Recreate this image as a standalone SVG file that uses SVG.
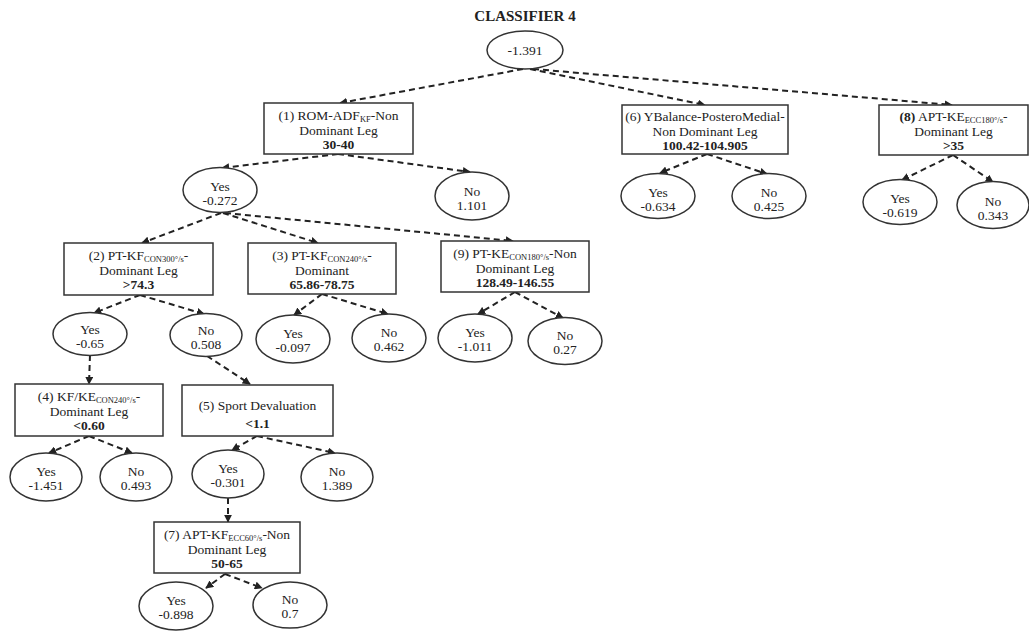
<svg xmlns="http://www.w3.org/2000/svg" width="1029" height="631" viewBox="0 0 1029 631">
  <style>
    text { font-family: "Liberation Serif", "Times New Roman", serif; font-size: 13.5px; fill: #222; text-anchor: middle; }
    .title { font-size: 15px; font-weight: bold; }
    .b { font-weight: bold; }
    .sub { font-size: 8.5px; }
    rect { fill: #fff; stroke: #333; stroke-width: 1.5; }
    ellipse { fill: #fff; stroke: #333; stroke-width: 1.5; }
    .edge { fill: none; stroke: #222; stroke-width: 2; stroke-dasharray: 6 4; marker-end: url(#ah); }
  </style>
  <defs>
    <marker id="ah" viewBox="0 0 10 10" refX="9" refY="5" markerWidth="4" markerHeight="4" orient="auto" markerUnits="strokeWidth">
      <path d="M0,0 L10,5 L0,10 z" fill="#222"/>
    </marker>
  </defs>
  <rect x="0" y="0" width="1029" height="631" style="fill:#fff;stroke:none"/>

  <text class="title" x="525" y="21">CLASSIFIER 4</text>

  <g id="connectors">
    <path class="edge" d="M523,69 L340,103"/>
    <path class="edge" d="M530,69 L705,105"/>
    <path class="edge" d="M533,69 L952,105"/>
    <path class="edge" d="M338,154 L222,168"/>
    <path class="edge" d="M338,154 L470,172"/>
    <path class="edge" d="M221,213 L142,243"/>
    <path class="edge" d="M223,213 L318,243"/>
    <path class="edge" d="M225,213 L513,241"/>
    <path class="edge" d="M140,295 L94,313"/>
    <path class="edge" d="M140,295 L204,314"/>
    <path class="edge" d="M322,294 L294,315"/>
    <path class="edge" d="M322,294 L388,314"/>
    <path class="edge" d="M515,292 L478,314"/>
    <path class="edge" d="M515,292 L563,318"/>
    <path class="edge" d="M707,154 L660,173"/>
    <path class="edge" d="M707,154 L767,174"/>
    <path class="edge" d="M953,155 L902,180"/>
    <path class="edge" d="M953,155 L993,182"/>
    <path class="edge" d="M90,355 L89,384"/>
    <path class="edge" d="M207,356 L250,384"/>
    <path class="edge" d="M89,436 L49,453"/>
    <path class="edge" d="M89,436 L132,453"/>
    <path class="edge" d="M257,436 L232,450"/>
    <path class="edge" d="M257,436 L335,453"/>
    <path class="edge" d="M228,498 L228,522"/>
    <path class="edge" d="M225,574 L206,588"/>
    <path class="edge" d="M225,574 L262,588"/>
  </g>

  <g id="root">
    <ellipse cx="525" cy="50" rx="38" ry="19"/>
    <text x="525" y="55">-1.391</text>
  </g>

  <g id="n1">
    <rect x="264" y="103" width="149" height="51"/>
    <text x="338.5" y="120">(1) ROM-ADF<tspan class="sub" dy="2">KF</tspan><tspan dy="-2">-Non</tspan></text>
    <text x="338.5" y="135">Dominant Leg</text>
    <text class="b" x="338.5" y="149">30-40</text>
  </g>

  <g id="n6">
    <rect x="622" y="105" width="166" height="49"/>
    <text x="705" y="121">(6) YBalance-PosteroMedial-</text>
    <text x="705" y="136">Non Dominant Leg</text>
    <text class="b" x="705" y="150">100.42-104.905</text>
  </g>

  <g id="n8">
    <rect x="879" y="105" width="149" height="50"/>
    <text x="953.5" y="121"><tspan class="b">(8)</tspan> APT-KE<tspan class="sub" dy="2">ECC180°/s</tspan><tspan dy="-2">-</tspan></text>
    <text x="953.5" y="136">Dominant Leg</text>
    <text class="b" x="953.5" y="150">&gt;35</text>
  </g>

  <g id="n1-yes">
    <ellipse cx="220" cy="190" rx="37" ry="22.5"/>
    <text x="220" y="191">Yes</text>
    <text x="220" y="205">-0.272</text>
  </g>
  <g id="n1-no">
    <ellipse cx="472" cy="196" rx="37" ry="24"/>
    <text x="472" y="196">No</text>
    <text x="472" y="210">1.101</text>
  </g>

  <g id="n6-yes">
    <ellipse cx="658" cy="196" rx="37" ry="22.5"/>
    <text x="658" y="197">Yes</text>
    <text x="658" y="211">-0.634</text>
  </g>
  <g id="n6-no">
    <ellipse cx="769" cy="196" rx="37" ry="22.5"/>
    <text x="769" y="197">No</text>
    <text x="769" y="211">0.425</text>
  </g>

  <g id="n8-yes">
    <ellipse cx="900" cy="202" rx="37" ry="22.5"/>
    <text x="900" y="203">Yes</text>
    <text x="900" y="217">-0.619</text>
  </g>
  <g id="n8-no">
    <ellipse cx="993" cy="205" rx="36" ry="23.5"/>
    <text x="993" y="206">No</text>
    <text x="993" y="220">0.343</text>
  </g>

  <g id="n2">
    <rect x="64" y="243" width="149" height="52"/>
    <text x="138.5" y="260">(2) PT-KF<tspan class="sub" dy="2">CON300°/s</tspan><tspan dy="-2">-</tspan></text>
    <text x="138.5" y="275">Dominant Leg</text>
    <text class="b" x="138.5" y="289">&gt;74.3</text>
  </g>

  <g id="n3">
    <rect x="248" y="243" width="148" height="51"/>
    <text x="322" y="260">(3) PT-KF<tspan class="sub" dy="2">CON240°/s</tspan><tspan dy="-2">-</tspan></text>
    <text x="322" y="275">Dominant</text>
    <text class="b" x="322" y="289">65.86-78.75</text>
  </g>

  <g id="n9">
    <rect x="441" y="241" width="148" height="51"/>
    <text x="515" y="258">(9) PT-KE<tspan class="sub" dy="2">CON180°/s</tspan><tspan dy="-2">-Non</tspan></text>
    <text x="515" y="273">Dominant Leg</text>
    <text class="b" x="515" y="287">128.49-146.55</text>
  </g>

  <g id="n2-yes">
    <ellipse cx="90" cy="334" rx="37" ry="21.5"/>
    <text x="90" y="334">Yes</text>
    <text x="90" y="348">-0.65</text>
  </g>
  <g id="n2-no">
    <ellipse cx="206" cy="335" rx="36" ry="21.5"/>
    <text x="206" y="335">No</text>
    <text x="206" y="349">0.508</text>
  </g>

  <g id="n3-yes">
    <ellipse cx="293" cy="339" rx="37" ry="24"/>
    <text x="293" y="338">Yes</text>
    <text x="293" y="352">-0.097</text>
  </g>
  <g id="n3-no">
    <ellipse cx="389" cy="338" rx="37" ry="24"/>
    <text x="389" y="337">No</text>
    <text x="389" y="351">0.462</text>
  </g>

  <g id="n9-yes">
    <ellipse cx="475" cy="338" rx="37" ry="24"/>
    <text x="475" y="337">Yes</text>
    <text x="475" y="351">-1.011</text>
  </g>
  <g id="n9-no">
    <ellipse cx="565" cy="341" rx="37" ry="23.5"/>
    <text x="565" y="340">No</text>
    <text x="565" y="354">0.27</text>
  </g>

  <g id="n4">
    <rect x="15" y="384" width="148" height="52"/>
    <text x="89" y="401">(4) KF/KE<tspan class="sub" dy="2">CON240°/s</tspan><tspan dy="-2">-</tspan></text>
    <text x="89" y="416">Dominant Leg</text>
    <text class="b" x="89" y="430">&lt;0.60</text>
  </g>

  <g id="n5">
    <rect x="182" y="385" width="151" height="51"/>
    <text x="257.5" y="410">(5) Sport Devaluation</text>
    <text class="b" x="257.5" y="428">&lt;1.1</text>
  </g>

  <g id="n4-yes">
    <ellipse cx="46" cy="477" rx="36" ry="24"/>
    <text x="46" y="476">Yes</text>
    <text x="46" y="490">-1.451</text>
  </g>
  <g id="n4-no">
    <ellipse cx="136" cy="477" rx="36" ry="24"/>
    <text x="136" y="476">No</text>
    <text x="136" y="490">0.493</text>
  </g>

  <g id="n5-yes">
    <ellipse cx="228" cy="474" rx="36" ry="24"/>
    <text x="228" y="473">Yes</text>
    <text x="228" y="487">-0.301</text>
  </g>
  <g id="n5-no">
    <ellipse cx="337" cy="477" rx="36" ry="24"/>
    <text x="337" y="476">No</text>
    <text x="337" y="490">1.389</text>
  </g>

  <g id="n7">
    <rect x="154" y="522" width="146" height="51"/>
    <text x="227" y="539">(7) APT-KF<tspan class="sub" dy="2">ECC60°/s</tspan><tspan dy="-2">-Non</tspan></text>
    <text x="227" y="554">Dominant Leg</text>
    <text class="b" x="227" y="568">50-65</text>
  </g>

  <g id="n7-yes">
    <ellipse cx="176" cy="606" rx="37" ry="24"/>
    <text x="176" y="605">Yes</text>
    <text x="176" y="619">-0.898</text>
  </g>
  <g id="n7-no">
    <ellipse cx="290" cy="605" rx="37" ry="23"/>
    <text x="290" y="604">No</text>
    <text x="290" y="618">0.7</text>
  </g>
</svg>
